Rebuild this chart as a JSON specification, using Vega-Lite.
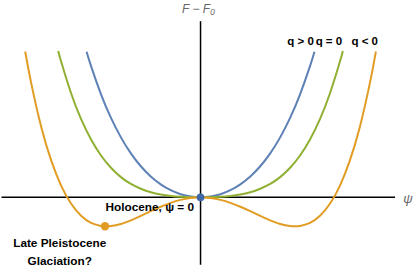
{
  "$schema": "https://vega.github.io/schema/vega-lite/v6.json",
  "width": 415,
  "height": 268,
  "autosize": {"type": "fit", "contains": "padding"},
  "padding": 0,
  "background": "white",
  "config": {"view": {"stroke": null}, "font": "Liberation Sans"},
  "datasets": {
    "curves": [
      {"q": "q > 0", "psi": -1.145, "F": 1.513}, {"q": "q > 0", "psi": -1.1, "F": 1.363}, {"q": "q > 0", "psi": -1.0, "F": 1.07}, {"q": "q > 0", "psi": -0.9, "F": 0.825}, {"q": "q > 0", "psi": -0.8, "F": 0.623}, {"q": "q > 0", "psi": -0.7, "F": 0.457}, {"q": "q > 0", "psi": -0.6, "F": 0.323}, {"q": "q > 0", "psi": -0.5, "F": 0.217}, {"q": "q > 0", "psi": -0.4, "F": 0.135}, {"q": "q > 0", "psi": -0.3, "F": 0.074}, {"q": "q > 0", "psi": -0.2, "F": 0.032}, {"q": "q > 0", "psi": -0.1, "F": 0.008}, {"q": "q > 0", "psi": 0, "F": 0},
      {"q": "q > 0", "psi": 0.1, "F": 0.008}, {"q": "q > 0", "psi": 0.2, "F": 0.032}, {"q": "q > 0", "psi": 0.3, "F": 0.074}, {"q": "q > 0", "psi": 0.4, "F": 0.135}, {"q": "q > 0", "psi": 0.5, "F": 0.217}, {"q": "q > 0", "psi": 0.6, "F": 0.323}, {"q": "q > 0", "psi": 0.7, "F": 0.457}, {"q": "q > 0", "psi": 0.8, "F": 0.623}, {"q": "q > 0", "psi": 0.9, "F": 0.825}, {"q": "q > 0", "psi": 1.0, "F": 1.07}, {"q": "q > 0", "psi": 1.1, "F": 1.363}, {"q": "q > 0", "psi": 1.145, "F": 1.513},
      {"q": "q = 0", "psi": -1.43, "F": 1.52}, {"q": "q = 0", "psi": -1.4, "F": 1.408}, {"q": "q = 0", "psi": -1.3, "F": 1.079}, {"q": "q = 0", "psi": -1.2, "F": 0.813}, {"q": "q = 0", "psi": -1.1, "F": 0.601}, {"q": "q = 0", "psi": -1.0, "F": 0.435}, {"q": "q = 0", "psi": -0.9, "F": 0.307}, {"q": "q = 0", "psi": -0.8, "F": 0.21}, {"q": "q = 0", "psi": -0.7, "F": 0.139}, {"q": "q = 0", "psi": -0.6, "F": 0.089}, {"q": "q = 0", "psi": -0.5, "F": 0.053}, {"q": "q = 0", "psi": -0.4, "F": 0.03}, {"q": "q = 0", "psi": -0.3, "F": 0.015}, {"q": "q = 0", "psi": -0.2, "F": 0.006}, {"q": "q = 0", "psi": -0.1, "F": 0.001}, {"q": "q = 0", "psi": 0, "F": 0},
      {"q": "q = 0", "psi": 0.1, "F": 0.001}, {"q": "q = 0", "psi": 0.2, "F": 0.006}, {"q": "q = 0", "psi": 0.3, "F": 0.015}, {"q": "q = 0", "psi": 0.4, "F": 0.03}, {"q": "q = 0", "psi": 0.5, "F": 0.053}, {"q": "q = 0", "psi": 0.6, "F": 0.089}, {"q": "q = 0", "psi": 0.7, "F": 0.139}, {"q": "q = 0", "psi": 0.8, "F": 0.21}, {"q": "q = 0", "psi": 0.9, "F": 0.307}, {"q": "q = 0", "psi": 1.0, "F": 0.435}, {"q": "q = 0", "psi": 1.1, "F": 0.601}, {"q": "q = 0", "psi": 1.2, "F": 0.813}, {"q": "q = 0", "psi": 1.3, "F": 1.079}, {"q": "q = 0", "psi": 1.4, "F": 1.408}, {"q": "q = 0", "psi": 1.43, "F": 1.52},
      {"q": "q < 0", "psi": -1.762, "F": 1.515}, {"q": "q < 0", "psi": -1.7, "F": 1.179}, {"q": "q < 0", "psi": -1.6, "F": 0.729}, {"q": "q < 0", "psi": -1.5, "F": 0.381}, {"q": "q < 0", "psi": -1.4, "F": 0.12}, {"q": "q < 0", "psi": -1.3, "F": -0.067}, {"q": "q < 0", "psi": -1.2, "F": -0.191}, {"q": "q < 0", "psi": -1.1, "F": -0.265}, {"q": "q < 0", "psi": -1.0, "F": -0.297}, {"q": "q < 0", "psi": -0.95, "F": -0.301}, {"q": "q < 0", "psi": -0.9, "F": -0.298}, {"q": "q < 0", "psi": -0.8, "F": -0.276}, {"q": "q < 0", "psi": -0.7, "F": -0.239}, {"q": "q < 0", "psi": -0.6, "F": -0.193}, {"q": "q < 0", "psi": -0.5, "F": -0.144}, {"q": "q < 0", "psi": -0.4, "F": -0.098}, {"q": "q < 0", "psi": -0.3, "F": -0.057}, {"q": "q < 0", "psi": -0.2, "F": -0.026}, {"q": "q < 0", "psi": -0.1, "F": -0.007}, {"q": "q < 0", "psi": 0, "F": 0},
      {"q": "q < 0", "psi": 0.1, "F": -0.007}, {"q": "q < 0", "psi": 0.2, "F": -0.026}, {"q": "q < 0", "psi": 0.3, "F": -0.057}, {"q": "q < 0", "psi": 0.4, "F": -0.098}, {"q": "q < 0", "psi": 0.5, "F": -0.144}, {"q": "q < 0", "psi": 0.6, "F": -0.193}, {"q": "q < 0", "psi": 0.7, "F": -0.239}, {"q": "q < 0", "psi": 0.8, "F": -0.276}, {"q": "q < 0", "psi": 0.9, "F": -0.298}, {"q": "q < 0", "psi": 0.95, "F": -0.301}, {"q": "q < 0", "psi": 1.0, "F": -0.297}, {"q": "q < 0", "psi": 1.1, "F": -0.265}, {"q": "q < 0", "psi": 1.2, "F": -0.191}, {"q": "q < 0", "psi": 1.3, "F": -0.067}, {"q": "q < 0", "psi": 1.4, "F": 0.12}, {"q": "q < 0", "psi": 1.5, "F": 0.381}, {"q": "q < 0", "psi": 1.6, "F": 0.729}, {"q": "q < 0", "psi": 1.7, "F": 1.179}, {"q": "q < 0", "psi": 1.762, "F": 1.515}
    ],
    "legendLabels": [
      {"q": "q > 0", "psi": 1.005},
      {"q": "q = 0", "psi": 1.29},
      {"q": "q < 0", "psi": 1.65}
    ]
  },
  "layer": [
    {
      "data": {"values": [{}]},
      "mark": {"type": "rule", "color": "black", "strokeWidth": 1.5},
      "encoding": {
        "x": {"datum": -2.0, "type": "quantitative", "scale": {"domain": [-1.995, 2.155], "nice": false, "zero": false}, "axis": null},
        "x2": {"datum": 1.955},
        "y": {"datum": 0, "type": "quantitative", "scale": {"domain": [-0.63, 2.05], "nice": false, "zero": false}, "axis": null}
      }
    },
    {
      "data": {"values": [{}]},
      "mark": {"type": "rule", "color": "black", "strokeWidth": 1.5},
      "encoding": {
        "x": {"datum": 0, "type": "quantitative"},
        "y": {"datum": 1.83, "type": "quantitative"},
        "y2": {"datum": -0.7}
      }
    },
    {
      "data": {"name": "curves"},
      "mark": {"type": "line", "strokeWidth": 2, "interpolate": "natural", "clip": true},
      "encoding": {
        "x": {"field": "psi", "type": "quantitative"},
        "y": {"field": "F", "type": "quantitative"},
        "color": {"field": "q", "type": "nominal", "scale": {"domain": ["q > 0", "q = 0", "q < 0"], "range": ["#5E81B5", "#8FB032", "#E19C24"]}, "legend": null},
        "order": {"field": "psi", "type": "quantitative"},
        "detail": {"field": "q"}
      }
    },
    {
      "data": {"values": [{"state": "Holocene", "psi": 0, "F": 0}]},
      "mark": {"type": "point", "filled": true, "opacity": 1, "size": 60, "color": "#4067A8"},
      "encoding": {
        "x": {"field": "psi", "type": "quantitative"},
        "y": {"field": "F", "type": "quantitative"}
      }
    },
    {
      "data": {"values": [{"state": "Late Pleistocene", "psi": -0.96, "F": -0.3}]},
      "mark": {"type": "point", "filled": true, "opacity": 1, "size": 70, "color": "#E19C24"},
      "encoding": {
        "x": {"field": "psi", "type": "quantitative"},
        "y": {"field": "F", "type": "quantitative"}
      }
    },
    {
      "data": {"name": "legendLabels"},
      "mark": {"type": "text", "fontWeight": "bold", "fontSize": 11.5, "color": "black", "align": "center", "baseline": "middle"},
      "encoding": {
        "x": {"field": "psi", "type": "quantitative"},
        "y": {"datum": 1.615, "type": "quantitative"},
        "text": {"field": "q"}
      }
    },
    {
      "data": {"values": [{}]},
      "mark": {"type": "text", "fontWeight": "bold", "fontSize": 11.8, "color": "black", "align": "right", "baseline": "middle"},
      "encoding": {
        "x": {"datum": -0.065, "type": "quantitative"},
        "y": {"datum": -0.1, "type": "quantitative"},
        "text": {"value": "Holocene,  ψ = 0"}
      }
    },
    {
      "data": {"values": [{}]},
      "mark": {"type": "text", "fontWeight": "bold", "fontSize": 11.8, "color": "black", "align": "center", "baseline": "middle", "lineHeight": 18},
      "encoding": {
        "x": {"datum": -1.415, "type": "quantitative"},
        "y": {"datum": -0.478, "type": "quantitative"},
        "text": {"value": ["Late Pleistocene", "Glaciation?"]}
      }
    },
    {
      "data": {"values": [{}]},
      "mark": {"type": "text", "fontStyle": "italic", "fontSize": 12, "color": "#666666", "align": "center", "baseline": "middle"},
      "encoding": {
        "x": {"datum": -0.02, "type": "quantitative"},
        "y": {"datum": 1.96, "type": "quantitative"},
        "text": {"value": "F − F₀"}
      }
    },
    {
      "data": {"values": [{}]},
      "mark": {"type": "text", "fontStyle": "italic", "fontSize": 13, "color": "#666666", "align": "center", "baseline": "middle"},
      "encoding": {
        "x": {"datum": 2.085, "type": "quantitative"},
        "y": {"datum": -0.02, "type": "quantitative"},
        "text": {"value": "ψ"}
      }
    }
  ]
}
